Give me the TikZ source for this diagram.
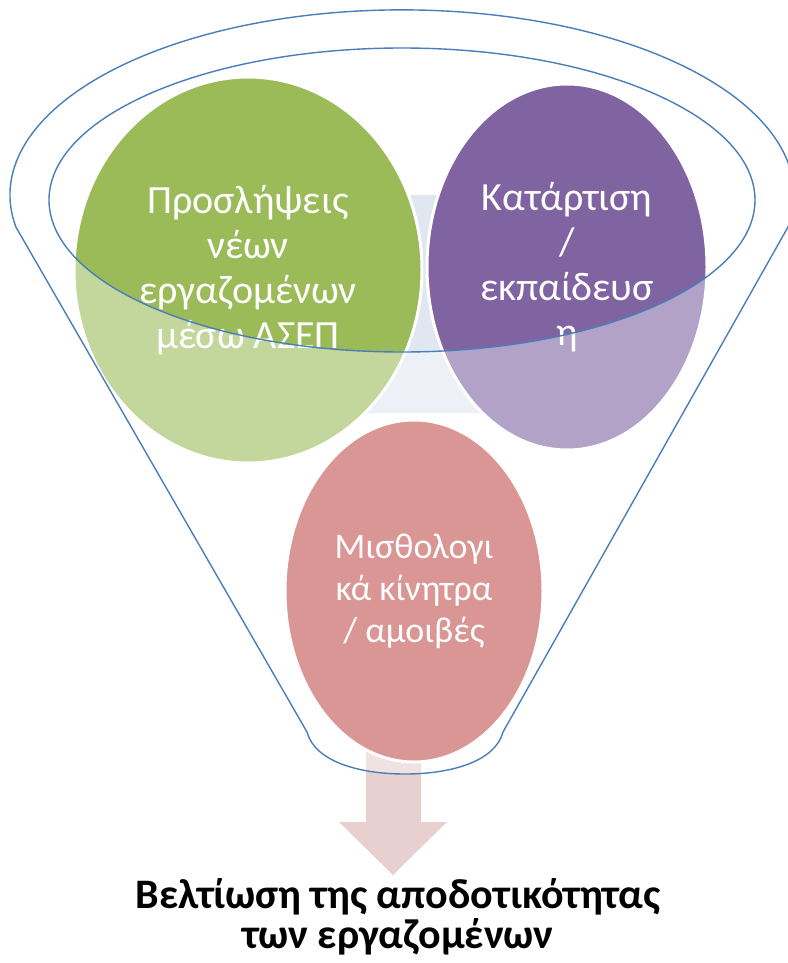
\documentclass[tikz,border=0pt]{standalone}
\usepackage{fontspec}
\setmainfont{Carlito}
\usetikzlibrary{shapes.geometric}
\definecolor{funnelblue}{HTML}{4A7EBB}
\definecolor{cgreen}{HTML}{9BBB59}
\definecolor{cpurple}{HTML}{8064A2}
\definecolor{cred}{HTML}{C0504D}
\definecolor{cback}{HTML}{E1E7F1}
\definecolor{carrow}{HTML}{E8D0D0}
\tikzset{
  bubble/.style={ellipse, draw=white, line width=3pt, text=white, align=center,
    inner sep=0pt, font=\fontsize{40}{45}\selectfont},
  outline/.style={draw=funnelblue, line width=1.4pt},
  result/.style={align=center, font=\bfseries\fontsize{42}{40}\selectfont}
}
\begin{document}
\begin{tikzpicture}[x=1pt,y=-1pt]
\useasboundingbox (0,0) rectangle (787,963);

% background band between the bubbles
\fill[cback] (402,195) -- (448,195) -- (500,413) -- (350,413) -- cycle;

% output arrow under the funnel
\fill[carrow] (366,745) -- (421,745) -- (421,822) -- (447,822) -- (393,875)
  -- (339,822) -- (366,822) -- cycle;

% the three bubbles
\node[bubble, fill=cgreen, minimum width=348pt, minimum height=386pt] (hire) at (248,270)
  {Προσλήψεις\\νέων\\εργαζομένων\\μέσω ΑΣΕΠ};
\node[bubble, fill=cpurple, minimum width=280pt, minimum height=366pt] (train) at (567,267)
  {Κατάρτιση\\/\\εκπαίδευσ\\η};
\node[bubble, fill=cred, minimum width=258pt, minimum height=342pt,
  font=\fontsize{36}{42}\selectfont] (pay) at (414,591)
  {Μισθολογι\\κά κίνητρα\\/ αμοιβές};

% translucent funnel body (everything inside the funnel but below the rim)
\fill[white, opacity=0.4, even odd rule]
  (788,227) arc[start angle=10, end angle=-190, x radius=392, y radius=185]
  -- (307,732) .. controls (315,762) and (360,774) .. (405,774)
  .. controls (450,774) and (495,762) .. (503,732) -- cycle
  (402,200) ellipse [x radius=353, y radius=152];

% funnel outlines
\draw[outline]
  (788,227) arc[start angle=10, end angle=-190, x radius=392, y radius=185]
  -- (307,732) .. controls (315,762) and (360,774) .. (405,774)
  .. controls (450,774) and (495,762) .. (503,732) -- cycle;
\draw[outline] (402,200) ellipse [x radius=353, y radius=152];

% result text
\node[result] (goal) at (398,917) {Βελτίωση της αποδοτικότητας\\των εργαζομένων};
\end{tikzpicture}
\end{document}
